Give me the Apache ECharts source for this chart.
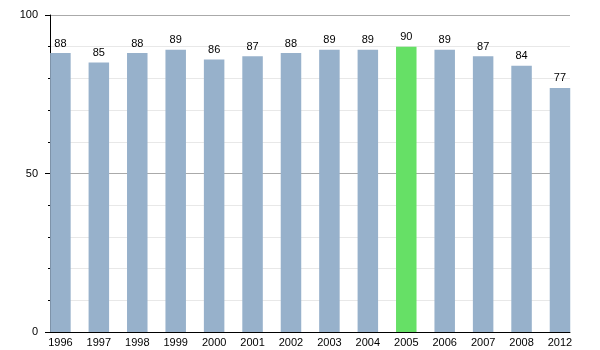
<!DOCTYPE html>
<html><head><meta charset="utf-8">
<script src="https://cdn.jsdelivr.net/npm/echarts@6/dist/echarts.min.js"></script>
<style>html,body{margin:0;padding:0;background:#fff}#c{width:600px;height:350px}</style>
</head><body><div id="c"></div>
<script>
const years = ['1996','1997','1998','1999','2000','2001','2002','2003','2004','2005','2006','2007','2008','2012'];
const values = [88,85,88,89,86,87,88,89,89,90,89,87,84,77];
const highlightYear = '2005';
const yTicks = [0,50,100];

const blue = '#97b1cb', green = '#66e066';
const font = 'Liberation Sans, Arial, sans-serif';
const chart = echarts.init(document.getElementById('c'), null, {renderer:'canvas'});
chart.setOption({
  animation:false,
  backgroundColor:'#fff',
  grid:[
    {left:41.2, right:20.8, top:15, bottom:18},
    {left:50, right:30, top:15, bottom:18}
  ],
  xAxis:[
    {gridIndex:0, type:'category', data:years, boundaryGap:true,
     axisLine:{show:false}, axisTick:{show:false},
     axisLabel:{color:'#000', fontSize:11, fontFamily:font, margin:5}},
    {gridIndex:1, type:'value', min:0, max:1,
     axisLine:{show:true, lineStyle:{color:'#000', width:1}}, axisTick:{show:false},
     axisLabel:{show:false}, splitLine:{show:false}}
  ],
  yAxis:[
    {gridIndex:0, type:'value', min:0, max:100, show:false, splitLine:{show:false}},
    {gridIndex:1, type:'value', min:0, max:100, interval:50,
     axisLine:{show:true, lineStyle:{color:'#000', width:1}},
     axisTick:{show:true, length:5, lineStyle:{color:'#000'}},
     minorTick:{show:true, splitNumber:5, length:2, lineStyle:{color:'#000'}},
     axisLabel:{color:'#000', fontSize:11, fontFamily:font, margin:12,
       formatter:v => yTicks.includes(v) ? String(v) : ''},
     splitLine:{show:true, lineStyle:{color:'#aaa', width:1}},
     minorSplitLine:{show:true, lineStyle:{color:'#e8e8e8', width:1}}}
  ],
  series:[{
    type:'bar', xAxisIndex:0, yAxisIndex:0, barWidth:20.5,
    data: values.map((v,i)=>({value:v, itemStyle:{color: years[i]===highlightYear ? green : blue}})),
    label:{show:true, position:'top', distance:4, color:'#000', fontSize:11, fontFamily:font}
  }]
});
</script></body></html>
